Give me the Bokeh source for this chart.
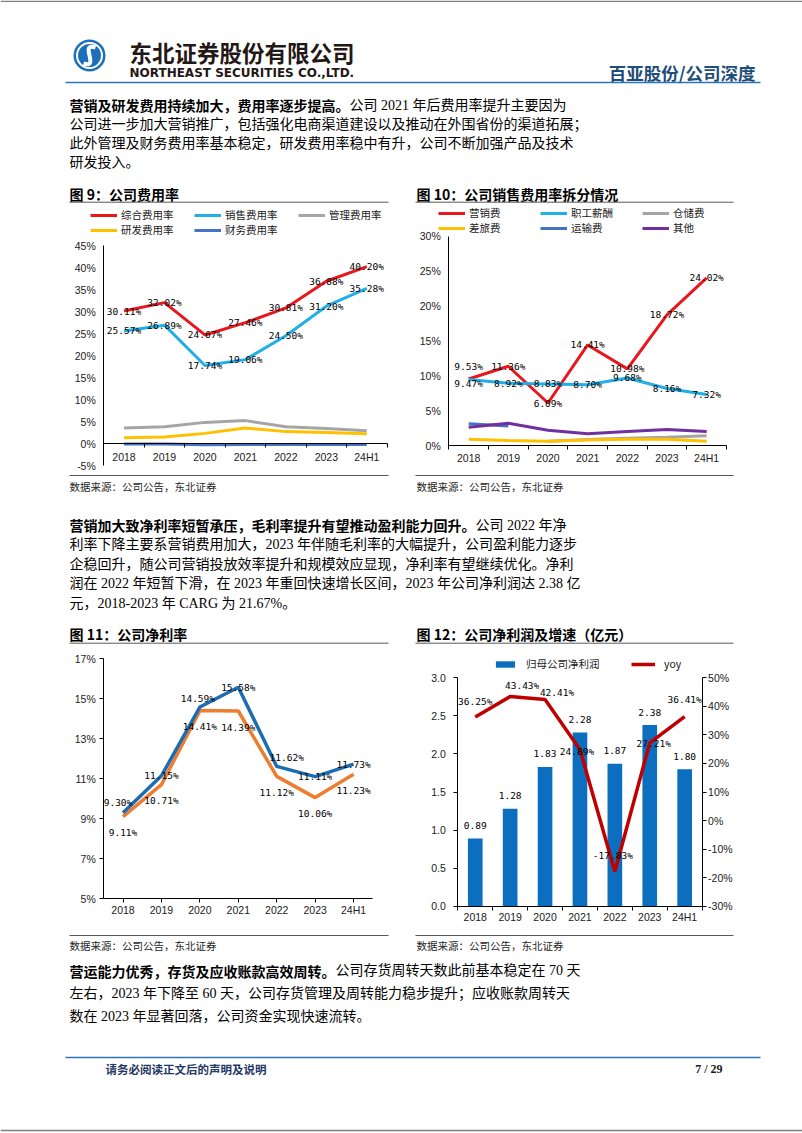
from bokeh.plotting import figure
from bokeh.models import (Range1d, LinearAxis, FixedTicker, PrintfTickFormatter,
                          Legend, LegendItem, ColumnDataSource)
from bokeh.layouts import column, row
from bokeh.embed import file_html
from bokeh.resources import INLINE
from bokeh.core.properties import value

NAN = float("nan")

# ---------------- data ----------------
years = ["2018", "2019", "2020", "2021", "2022", "2023", "24H1"]

# Fig 9 公司费用率 (%)
exp_total = [30.11, 32.02, 24.67, 27.46, 30.81, 36.88, 40.20]
exp_sales = [25.57, 26.89, 17.74, 19.06, 24.50, 31.20, 35.28]
exp_admin = [3.5, 3.8, 4.8, 5.2, 3.8, 3.4, 2.9]
exp_rd = [1.3, 1.5, 2.3, 3.5, 2.7, 2.5, 2.2]
exp_fin = [-0.1, -0.1, -0.3, -0.2, -0.2, -0.2, -0.2]

# Fig 10 销售费用率拆分 (%)
sb_marketing = [9.53, 11.36, 6.09, 14.41, 10.98, 18.72, 24.02]
sb_salary = [9.47, 8.92, 8.83, 8.70, 9.68, 8.16, 7.32]
sb_storage = [NAN, NAN, 0.6, 0.85, 1.05, 1.2, 1.4]
sb_travel = [0.9, 0.7, 0.6, 0.8, 0.9, 0.9, 0.6]
sb_transport = [3.1, 2.8, NAN, NAN, NAN, NAN, NAN]
sb_other = [2.6, 3.2, 2.2, 1.7, 2.0, 2.3, 2.0]

# Fig 11 公司净利率 (%)
npm_blue = [9.30, 11.15, 14.59, 15.58, 11.62, 11.11, 11.73]
npm_orange = [9.11, 10.71, 14.41, 14.39, 11.12, 10.06, 11.23]

# Fig 12 归母净利润 (亿元) and yoy (%)
np_profit = [0.89, 1.28, 1.83, 2.28, 1.87, 2.38, 1.80]
np_yoy = [36.25, 43.43, 42.41, 24.89, -17.83, 27.21, 36.41]

# label pixel offsets (styling)
mkt_dy = [-13, 0, 0, 0, 0, 0, 0]
sal_dy = [4, 0, 0, 0, 0, 0, 0]
npmb_dx = [-5, 0, -2, 0, 10, 0, 0]
npmb_dy = [-10, 0, -9, 0, -9, 0, 0]
npmo_dy = [16, 16, 16, 16, 16, 16, 16]
yoy_dx = [0, 12, 12, -3, -2, 4, 0]
yoy_dy = [-16, -11, -7, 2, -16, 1, -17]
bar_dy = [-13, -13, -13, -13, -13, -13, -13]

CJK = "Noto Sans CJK SC"
BODY = "'Liberation Serif', 'Noto Sans CJK SC'"
NUM = "Liberation Sans"
LBL = "DejaVu Sans Mono"

N = len(years)
xs = [i + 0.5 for i in range(N)]
bounds = list(range(0, N + 1))

PAGE_W = 802


# ---------------- helpers ----------------
def page_fig(top, bottom):
    return figure(width=PAGE_W, height=bottom - top, x_range=Range1d(0, PAGE_W),
                  y_range=Range1d(bottom, top), x_axis_type=None, y_axis_type=None,
                  output_backend="svg", toolbar_location=None, min_border=0,
                  outline_line_color=None)


def txt(f, x, y, s, size=14, font=CJK, bold=False, color="#000000", align="left"):
    f.text(x=[x], y=[y], text=[s], text_font=value(font), text_font_size=f"{size}px",
           text_font_style="bold" if bold else "normal", text_color=color,
           text_align=align, text_baseline="middle")


def rule(f, x0, x1, y, color="#595959", w=1.0):
    f.segment(x0=[x0], y0=[y], x1=[x1], y1=[y], line_color=color, line_width=w)


def para(f, x0, y_list, lines, size=14):
    for y, segs in zip(y_list, lines):
        x = x0
        for s, bold in segs:
            txt(f, x, y, s, size=size, font=CJK if bold else BODY, bold=bold)
            x += len(s) * size


def yrange(fig_top, h, v0, px0, v1, px1):
    ppu = (px0 - px1) / (v1 - v0)
    return Range1d(v0 - (fig_top + h - px0) / ppu, v1 + (px1 - fig_top) / ppu)


def chart(fig_left, fig_top, w, h, x0_px, x7_px, v0, px0, v1, px1):
    """Figure whose frame fills the canvas; axes are placed at fixed data locations."""
    ppx = (x7_px - x0_px) / N
    xr = Range1d((fig_left - x0_px) / ppx, (fig_left + w - x0_px) / ppx)
    p = figure(width=w, height=h, x_range=xr, y_range=yrange(fig_top, h, v0, px0, v1, px1),
               output_backend="svg", toolbar_location=None, min_border=0,
               outline_line_color=None)
    p.grid.visible = False
    return p


def style_axis(ax):
    ax.axis_line_color = "#000000"
    ax.axis_line_width = 1
    ax.major_label_text_font = NUM
    ax.major_label_text_font_size = "10.5px"
    ax.major_label_text_color = "#1a1a1a"
    ax.major_tick_line_color = "#000000"
    ax.minor_tick_line_color = "#000000"


def x_axis(ax, at, standoff, center_ticks=False):
    style_axis(ax)
    ax.fixed_location = at
    ax.bounds = (0, N)
    ax.major_label_overrides = dict(zip(xs, years))
    ax.major_tick_in = 0
    ax.minor_tick_in = 0
    if center_ticks:
        ax.ticker = FixedTicker(ticks=xs)
        ax.major_tick_out = 4
        ax.minor_tick_out = 0
    else:
        ax.ticker = FixedTicker(ticks=xs, minor_ticks=bounds)
        ax.major_tick_out = 0
        ax.minor_tick_out = 4
    ax.major_label_standoff = standoff


def y_axis(ax, ticks, fmt, tick_out, standoff, at):
    style_axis(ax)
    ax.fixed_location = at
    ax.bounds = (ticks[0], ticks[-1])
    ax.ticker = FixedTicker(ticks=ticks)
    ax.formatter = PrintfTickFormatter(format=fmt)
    ax.major_tick_in = 0
    ax.major_tick_out = tick_out
    if tick_out == 0:
        ax.major_tick_line_color = None
    ax.minor_tick_in = 0
    ax.minor_tick_out = 0
    ax.major_label_standoff = standoff


def labels(p, ys, texts, dx=None, dy=None, range_name=None):
    data = dict(x=xs, y=ys, t=texts, dx=dx if dx else [0] * N, dy=dy if dy else [0] * N)
    kw = {}
    if range_name:
        kw["y_range_name"] = range_name
    p.text(x="x", y="y", text="t", x_offset="dx", y_offset="dy", source=ColumnDataSource(data),
           text_font=value(LBL), text_font_size="9.5px", text_color="#000000",
           text_align="center", text_baseline="middle", **kw)


def make_legend(items, loc, ncols, glyph_w, glyph_h, standoff, label_w, spacing):
    return Legend(items=items, location=loc, orientation="horizontal", ncols=ncols,
                  border_line_color=None, background_fill_alpha=0, padding=0, margin=0,
                  spacing=spacing, glyph_width=glyph_w, glyph_height=glyph_h,
                  label_standoff=standoff, label_width=label_w, label_height=12,
                  label_text_font=CJK, label_text_font_size="10.5px",
                  label_text_color="#1a1a1a")


def pct(vals):
    return [f"{v:.2f}%" for v in vals]


# ---------------- Fig 9 ----------------
p9 = chart(0, 205, 400, 267, 103.3, 386.5, -5, 465, 45, 245)
x_axis(p9.xaxis[0], 0, 3)
y_axis(p9.yaxis[0], list(range(-5, 50, 5)), "%d%%", 0, 8, 0)
r9 = [
    p9.line(xs, exp_total, line_color="#E8161D", line_width=3),
    p9.line(xs, exp_sales, line_color="#22AEE6", line_width=3),
    p9.line(xs, exp_admin, line_color="#A5A5A5", line_width=3),
    p9.line(xs, exp_rd, line_color="#FFC000", line_width=3),
    p9.line(xs, exp_fin, line_color="#4472C4", line_width=3),
]
labels(p9, exp_total, pct(exp_total))
labels(p9, exp_sales, pct(exp_sales))
names9 = ["综合费用率", "销售费用率", "管理费用率", "研发费用率", "财务费用率"]
p9.add_layout(make_legend([LegendItem(label=n, renderers=[r]) for n, r in zip(names9, r9)],
                          (90, 235), 3, 27, 12, 4, 73, 0), "center")

# ---------------- Fig 10 ----------------
p10 = chart(400, 205, 402, 267, 448.3, 726, 0, 445, 30, 235.7)
x_axis(p10.xaxis[0], 0, 2)
y_axis(p10.yaxis[0], list(range(0, 35, 5)), "%d%%", 0, 8, 0)
r10 = [
    p10.line(xs, sb_marketing, line_color="#E8161D", line_width=3),
    p10.line(xs, sb_salary, line_color="#22AEE6", line_width=3),
    p10.line(xs, sb_storage, line_color="#A5A5A5", line_width=3),
    p10.line(xs, sb_travel, line_color="#FFC000", line_width=3),
    p10.line(xs, sb_transport, line_color="#4472C4", line_width=3),
    p10.line(xs, sb_other, line_color="#7030A0", line_width=3),
]
labels(p10, sb_marketing, pct(sb_marketing), dy=mkt_dy)
labels(p10, sb_salary, pct(sb_salary), dy=sal_dy)
names10 = ["营销费", "职工薪酬", "仓储费", "差旅费", "运输费", "其他"]
leg10 = make_legend([LegendItem(label=n, renderers=[r]) for n, r in zip(names10, r10)],
                    (38, 237), 3, 27, 12, 4, 71, 0)
leg10.label_text_line_height = 0.8
p10.add_layout(leg10, "center")

# ---------------- Fig 11 ----------------
p11 = chart(0, 648, 400, 282, 103.3, 372.3, 5, 898.3, 17, 658.3)
x_axis(p11.xaxis[0], 5, 1, center_ticks=True)
y_axis(p11.yaxis[0], list(range(5, 18, 2)), "%d%%", 4, 4, 0)
p11.line(xs, npm_orange, line_color="#ED7D31", line_width=3.5)
p11.line(xs, npm_blue, line_color="#1B6DB3", line_width=3.5)
labels(p11, npm_blue, pct(npm_blue), dx=npmb_dx, dy=npmb_dy)
labels(p11, npm_orange, pct(npm_orange), dy=npmo_dy)

# ---------------- Fig 12 ----------------
p12 = chart(400, 648, 402, 282, 457.3, 701.6, 0, 905.7, 3, 677.3)
p12.extra_y_ranges = {"yoy": yrange(648, 282, -30, 905.7, 50, 677.3)}
x_axis(p12.xaxis[0], 0, 1)
y_axis(p12.yaxis[0], [0, 0.5, 1.0, 1.5, 2.0, 2.5, 3.0], "%.1f", 4, 8, 0)
ax_r = LinearAxis(y_range_name="yoy")
y_axis(ax_r, list(range(-30, 60, 10)), "%d%%", 4, 2, N)
p12.add_layout(ax_r, "right")
rb = p12.vbar(x=xs, top=np_profit, width=0.42, fill_color="#0B6EBF", line_color=None)
rl = p12.line(xs, np_yoy, line_color="#C00000", line_width=3.5, y_range_name="yoy")
labels(p12, np_profit, [f"{v:.2f}" for v in np_profit], dy=bar_dy)
labels(p12, np_yoy, pct(np_yoy), dx=yoy_dx, dy=yoy_dy, range_name="yoy")
p12.add_layout(make_legend([LegendItem(label="归母公司净利润", renderers=[rb]),
                            LegendItem(label="yoy", renderers=[rl])],
                           (93, 259), "auto", 24, 8, 9, 95, 10), "center")

# ---------------- page text ----------------
para1 = [
    [("营销及研发费用持续加大，费用率逐步提高。", True), ("公司 2021 年后费用率提升主要因为", False)],
    [("公司进一步加大营销推广，包括强化电商渠道建设以及推动在外围省份的渠道拓展；", False)],
    [("此外管理及财务费用率基本稳定，研发费用率稳中有升，公司不断加强产品及技术", False)],
    [("研发投入。", False)],
]
para2 = [
    [("营销加大致净利率短暂承压，毛利率提升有望推动盈利能力回升。", True), ("公司 2022 年净", False)],
    [("利率下降主要系营销费用加大，2023 年伴随毛利率的大幅提升，公司盈利能力逐步", False)],
    [("企稳回升，随公司营销投放效率提升和规模效应显现，净利率有望继续优化。净利", False)],
    [("润在 2022 年短暂下滑，在 2023 年重回快速增长区间，2023 年公司净利润达 2.38 亿", False)],
    [("元，2018-2023 年 CARG 为 21.67%。", False)],
]
para3 = [
    [("营运能力优秀，存货及应收账款高效周转。", True), ("公司存货周转天数此前基本稳定在 70 天", False)],
    [("左右，2023 年下降至 60 天，公司存货管理及周转能力稳步提升；应收账款周转天", False)],
    [("数在 2023 年显著回落，公司资金实现快速流转。", False)],
]
source_text = "数据来源：公司公告，东北证券"

# Segment A: header, paragraph 1, titles 9/10
A = page_fig(0, 205)
rule(A, 0, PAGE_W, 0.8, color="#808080", w=1.5)
A.circle(x=[89], y=[55], radius=16, fill_color="#1E6FBA", line_color=None)
A.circle(x=[89], y=[55], radius=12.5, fill_color=None, line_color="white", line_width=2)
A.bezier(x0=[95], y0=[47], x1=[83], y1=[63], cx0=[78], cy0=[41], cx1=[100], cy1=[69],
         line_color="white", line_width=4)
txt(A, 129, 51, "东北证券股份有限公司", size=22.5, bold=True, color="#231815")
txt(A, 129, 72, "NORTHEAST SECURITIES CO.,LTD.", size=12, font="DejaVu Sans", bold=True,
    color="#231815")
txt(A, 755, 72, "百亚股份/公司深度", size=17.5, bold=True, color="#1F4E79", align="right")
rule(A, 65, 760, 82, color="#2E75B6", w=1.5)
para(A, 69, [104.7, 123.7, 142.7, 161.7], para1)
txt(A, 69, 193, "图 9：公司费用率", size=14, bold=True)
txt(A, 416, 193, "图 10：公司销售费用率拆分情况", size=14, bold=True)
rule(A, 69, 388, 201.7)
rule(A, 415, 733, 201.7)

# Segment C: sources, paragraph 2, titles 11/12
C = page_fig(472, 648)
rule(C, 69, 388, 475)
rule(C, 415, 733, 475)
txt(C, 69, 486, source_text, size=10.5, color="#262626")
txt(C, 416, 486, source_text, size=10.5, color="#262626")
para(C, 69, [524.5, 544, 563.5, 583, 602.5], para2)
txt(C, 69, 633.3, "图 11：公司净利率", size=14, bold=True)
txt(C, 416, 633.3, "图 12：公司净利润及增速（亿元）", size=14, bold=True)
rule(C, 69, 388, 642.7)
rule(C, 415, 733, 642.7)

# Segment E: sources, paragraph 3, footer
E = page_fig(930, 1132)
rule(E, 69, 388, 935)
rule(E, 415, 733, 935)
txt(E, 69, 945, source_text, size=10.5, color="#262626")
txt(E, 416, 945, source_text, size=10.5, color="#262626")
para(E, 69, [970, 993, 1016], para3)
rule(E, 65, 760, 1057, color="#2E75B6", w=1.5)
txt(E, 105, 1068, "请务必阅读正文后的声明及说明", size=11.5, bold=True, color="#1F3864")
txt(E, 722, 1068, "7 / 29", size=12, font="Liberation Serif", bold=True, color="#1a1a1a",
    align="right")
rule(E, 0, PAGE_W, 1130, color="#808080", w=1.5)

layout = column(A, row(p9, p10, spacing=0), C, row(p11, p12, spacing=0), E, spacing=0)

with open("out.html", "w") as fh:
    fh.write(file_html(layout, INLINE))
